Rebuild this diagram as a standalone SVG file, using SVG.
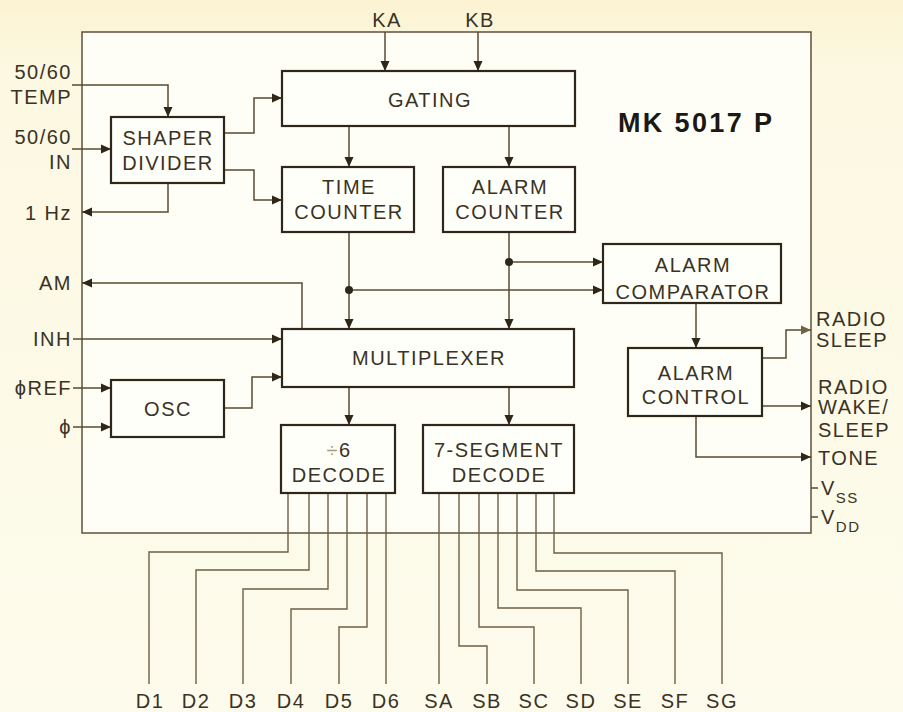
<svg xmlns="http://www.w3.org/2000/svg" width="903" height="712" viewBox="0 0 903 712">
<defs>
<marker id="ar" markerWidth="10" markerHeight="10" refX="10" refY="5" orient="auto" markerUnits="userSpaceOnUse">
<path d="M0,0.5 L10,5 L0,9.5 z" fill="#2e2618"/>
</marker>
<marker id="arg" markerWidth="10" markerHeight="10" refX="10" refY="5" orient="auto" markerUnits="userSpaceOnUse">
<path d="M0,0.5 L10,5 L0,9.5 z" fill="#6e6248"/>
</marker>
<linearGradient id="bg" x1="0" y1="0" x2="0" y2="1">
<stop offset="0" stop-color="#fbf3d2"/>
<stop offset="0.1" stop-color="#fcf8e2"/>
<stop offset="1" stop-color="#fdfbec"/>
</linearGradient>
<style>
.box{fill:#fffffa;stroke:#2e2618;stroke-width:2.2}
.t{font-family:"Liberation Sans",Arial,sans-serif;font-size:20px;letter-spacing:1.5px;fill:#3a3224;text-anchor:middle}
.l{font-family:"Liberation Sans",Arial,sans-serif;font-size:20px;letter-spacing:1.5px;fill:#3a3224;text-anchor:end}
.r{font-family:"Liberation Sans",Arial,sans-serif;font-size:20px;letter-spacing:1.5px;fill:#3a3224;text-anchor:start}
.c{fill:none;stroke:#5a4832;stroke-width:1.5}
.a{marker-end:url(#ar)}
.p{fill:none;stroke:#6e5f44;stroke-width:1.4}
</style>
</defs>
<rect x="0" y="0" width="903" height="712" fill="url(#bg)"/>
<rect x="82" y="32" width="729" height="501" fill="#fefef7" stroke="#5e5038" stroke-width="1.5"/>

<g id="connectors">
<path class="c a" d="M385,32 V71"/>
<path class="c a" d="M478,32 V71"/>
<path class="c a" d="M72,85 H168 V117"/>
<path class="c a" d="M72,149 H111"/>
<path class="c a" d="M168,183 V212 H82"/>
<path class="c a" d="M224,133 H254 V98 H282"/>
<path class="c a" d="M224,170 H254 V200 H282"/>
<path class="c a" d="M349,126 V167"/>
<path class="c a" d="M509,126 V167"/>
<path class="c a" d="M349,232 V329"/>
<path class="c a" d="M509,232 V329"/>
<path class="c a" d="M349,290 H603"/>
<path class="c a" d="M509,262 H603"/>
<circle cx="349" cy="290" r="4" fill="#2e2618"/>
<circle cx="509" cy="262" r="4" fill="#2e2618"/>
<path class="c a" d="M302,329 V283 H82"/>
<path class="c a" d="M73,339 H282"/>
<path class="c a" d="M73,388 H111"/>
<path class="c a" d="M73,427 H111"/>
<path class="c a" d="M224,408 H252 V377 H282"/>
<path class="c a" d="M349,387 V425"/>
<path class="c a" d="M509,387 V425"/>
<path class="c a" d="M696,303 V348"/>
<path class="c" d="M762,358 H786 V330 H811" marker-end="url(#arg)"/>
<path class="c a" d="M762,406 H811"/>
<path class="c a" d="M696,416 V457 H811"/>
<path class="c" d="M811,488 H818"/>
<path class="c" d="M811,517 H818"/>
<g id="digit-lines">
<path class="p" d="M288,493 V552 H149 V684"/>
<path class="p" d="M309,493 V570 H196 V684"/>
<path class="p" d="M328,493 V589 H243 V684"/>
<path class="p" d="M347,493 V609 H291 V684"/>
<path class="p" d="M367,493 V627 H339 V684"/>
<path class="p" d="M386,493 V684"/>
</g>
<g id="segment-lines">
<path class="p" d="M439,493 V684"/>
<path class="p" d="M459,493 V646 H487 V684"/>
<path class="p" d="M479,493 V627 H534 V684"/>
<path class="p" d="M498,493 V608 H581 V684"/>
<path class="p" d="M517,493 V590 H628 V684"/>
<path class="p" d="M536,493 V571 H675 V684"/>
<path class="p" d="M554,493 V553 H722 V684"/>
</g>
</g>

<g id="gating"><rect class="box" x="282" y="71" width="293" height="55"/><text class="t" x="430" y="107">GATING</text></g>
<g id="shaper-divider"><rect class="box" x="111" y="117" width="113" height="66"/><text class="t" x="168" y="145">SHAPER</text><text class="t" x="168" y="170">DIVIDER</text></g>
<g id="time-counter"><rect class="box" x="282" y="167" width="132" height="65"/><text class="t" x="349" y="194">TIME</text><text class="t" x="349" y="219">COUNTER</text></g>
<g id="alarm-counter"><rect class="box" x="443" y="167" width="132" height="65"/><text class="t" x="510" y="194">ALARM</text><text class="t" x="510" y="219">COUNTER</text></g>
<g id="alarm-comparator"><rect class="box" x="603" y="244" width="178" height="59"/><text class="t" x="693" y="272">ALARM</text><text class="t" x="693" y="299">COMPARATOR</text></g>
<g id="multiplexer"><rect class="box" x="282" y="329" width="292" height="58"/><text class="t" x="429" y="365">MULTIPLEXER</text></g>
<g id="alarm-control"><rect class="box" x="628" y="348" width="134" height="68"/><text class="t" x="696" y="380">ALARM</text><text class="t" x="696" y="404">CONTROL</text></g>
<g id="osc"><rect class="box" x="111" y="380" width="113" height="57"/><text class="t" x="168" y="416">OSC</text></g>
<g id="div6-decode"><rect class="box" x="281" y="425" width="114" height="68"/><text class="t" x="339" y="457"><tspan fill="#a59a80">÷</tspan>6</text><text class="t" x="339" y="482">DECODE</text></g>
<g id="seven-segment-decode"><rect class="box" x="423" y="425" width="151" height="68"/><text class="t" x="499" y="457">7-SEGMENT</text><text class="t" x="499" y="482">DECODE</text></g>

<g id="title"><text x="618" y="132" font-family="Liberation Sans,Arial,sans-serif" font-weight="bold" font-size="27" fill="#1c1812" textLength="154" lengthAdjust="spacing">MK 5017 P</text></g>

<g id="labels">
<text class="t" x="387" y="27">KA</text>
<text class="t" x="480" y="27">KB</text>
<text class="l" x="72" y="79">50/60</text>
<text class="l" x="72" y="104">TEMP</text>
<text class="l" x="72" y="144">50/60</text>
<text class="l" x="72" y="169">IN</text>
<text class="l" x="72" y="220">1 Hz</text>
<text class="l" x="72" y="290">AM</text>
<text class="l" x="72" y="346">INH</text>
<text class="l" x="72" y="395">ϕREF</text>
<text class="l" x="72" y="434" fill="#8a8a72">ϕ</text>
<text class="r" x="816" y="326">RADIO</text>
<text class="r" x="816" y="347">SLEEP</text>
<text class="r" x="818" y="394">RADIO</text>
<text class="r" x="818" y="414">WAKE/</text>
<text class="r" x="818" y="437">SLEEP</text>
<text class="r" x="818" y="465">TONE</text>
<text class="r" x="821" y="495">V<tspan font-size="15" dy="8">SS</tspan></text>
<text class="r" x="821" y="524">V<tspan font-size="15" dy="8">DD</tspan></text>
</g>
<g id="pin-labels">
<text class="t" x="150" y="708" letter-spacing="0.5">D1</text>
<text class="t" x="196" y="708" letter-spacing="0.5">D2</text>
<text class="t" x="243" y="708" letter-spacing="0.5">D3</text>
<text class="t" x="291" y="708" letter-spacing="0.5">D4</text>
<text class="t" x="339" y="708" letter-spacing="0.5">D5</text>
<text class="t" x="386" y="708" letter-spacing="0.5">D6</text>
<text class="t" x="439" y="708" letter-spacing="0.5">SA</text>
<text class="t" x="487" y="708" letter-spacing="0.5">SB</text>
<text class="t" x="534" y="708" letter-spacing="0.5">SC</text>
<text class="t" x="581" y="708" letter-spacing="0.5">SD</text>
<text class="t" x="628" y="708" letter-spacing="0.5">SE</text>
<text class="t" x="675" y="708" letter-spacing="0.5">SF</text>
<text class="t" x="722" y="708" letter-spacing="0.5">SG</text>
</g>
</svg>
